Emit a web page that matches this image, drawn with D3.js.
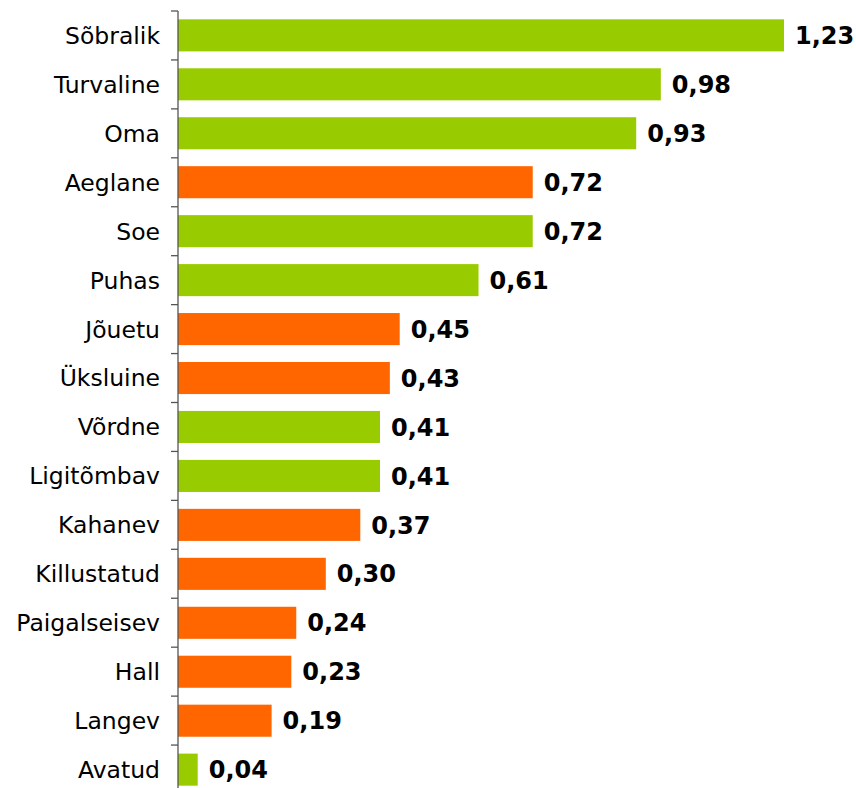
<!DOCTYPE html>
<html>
    <head>
        <script src="https://d3js.org/d3.v7.min.js"></script>
        <style>
            body { margin: 0; background: white; }
            text { font-family: "DejaVu Sans", Verdana, sans-serif; }
        </style>
    </head>
    <body>
        <svg width="856" height="788"></svg>

        <script>
            // data
            const categories = ["Sõbralik", "Turvaline", "Oma", "Aeglane", "Soe", "Puhas", "Jõuetu", "Üksluine",
                "Võrdne", "Ligitõmbav", "Kahanev", "Killustatud", "Paigalseisev", "Hall", "Langev", "Avatud"];
            const values = [1.23, 0.98, 0.93, 0.72, 0.72, 0.61, 0.45, 0.43, 0.41, 0.41, 0.37, 0.30, 0.24, 0.23, 0.19, 0.04];
            const groups = ["pos", "pos", "pos", "neg", "pos", "pos", "neg", "neg",
                "pos", "pos", "neg", "neg", "neg", "neg", "neg", "pos"];

            const data = categories.map((c, i) => ({ name: c, value: values[i], group: groups[i] }));

            const svg = d3.select("svg");
            const x0 = 178;

            const x = d3.scaleLinear()
                .domain([0, 1.23])
                .range([x0, 784]);

            // axis runs a bit past the bottom edge of the picture
            const y = d3.scaleBand()
                .domain(categories)
                .range([11, 794])
                .paddingInner(0.345)
                .paddingOuter(0.17);

            const color = d3.scaleOrdinal()
                .domain(["pos", "neg"])
                .range(["#99cc00", "#ff6600"]);

            // bars
            svg.append("g")
                .selectAll("rect")
                .data(data)
                .join("rect")
                .attr("x", x0)
                .attr("y", d => y(d.name))
                .attr("width", d => x(d.value) - x0)
                .attr("height", y.bandwidth())
                .attr("fill", d => color(d.group));

            // value labels
            svg.append("g")
                .selectAll("text")
                .data(data)
                .join("text")
                .attr("x", d => x(d.value) + 11)
                .attr("y", d => y(d.name) + y.bandwidth() / 2)
                .attr("dy", "0.36em")
                .attr("font-size", 24)
                .attr("font-weight", "bold")
                .attr("fill", "#000")
                .text(d => d3.format(".2f")(d.value).replace(".", ","));

            // category axis with ticks between the rows
            const axis = svg.append("g").attr("transform", `translate(${x0},0)`);
            const [r0, r1] = y.range();
            axis.append("line")
                .attr("y1", r0).attr("y2", r1)
                .attr("stroke", "#555").attr("stroke-width", 1.3);
            const step = (r1 - r0) / categories.length;
            axis.selectAll(".tick")
                .data(d3.range(categories.length + 1))
                .join("line")
                .attr("x1", -7).attr("x2", 0)
                .attr("y1", i => r0 + i * step).attr("y2", i => r0 + i * step)
                .attr("stroke", "#555").attr("stroke-width", 1.3);
            axis.selectAll("text")
                .data(categories)
                .join("text")
                .attr("x", -18)
                .attr("y", d => y(d) + y.bandwidth() / 2)
                .attr("dy", "0.36em")
                .attr("text-anchor", "end")
                .attr("font-size", 23.5)
                .attr("fill", "#000")
                .text(d => d);
        </script>
    </body>
</html>
